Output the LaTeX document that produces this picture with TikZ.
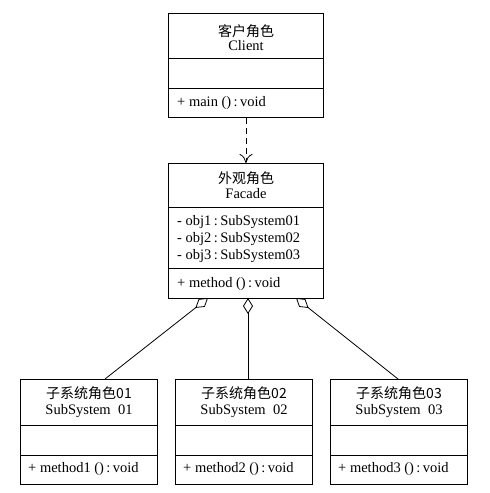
\documentclass[tikz,border=0pt]{standalone}
\usepackage{fontspec}
\setmainfont{Liberation Serif}
\newfontfamily\cjk{Noto Sans CJK SC}
\usetikzlibrary{arrows.meta}
\begin{document}
\begin{tikzpicture}[x=1pt,y=-1pt,
  box/.style={draw, line width=0.9pt, anchor=north west, inner sep=0pt},
  txt/.style={font=\fontsize{14.5}{16}\selectfont, inner sep=0pt, anchor=center},
  ltxt/.style={font=\fontsize{14.5}{16}\selectfont, inner sep=0pt, anchor=west},
  ctitle/.style={font=\cjk\fontsize{14}{16}\selectfont, inner sep=0pt, anchor=center},
  divider/.style={line width=0.9pt},
  conn/.style={line width=0.8pt}]
\useasboundingbox (0,0) rectangle (490,493);
% Client
\node[box, minimum width=155pt, minimum height=104pt] (client) at (168,13) {};
\draw[divider] (168,58) -- (323,58);
\draw[divider] (168,88) -- (323,88);
\node[ctitle] (clientcn) at (246,31) {客户角色};
\node[txt] (clienten) at (246,46) {Client};
\node[ltxt] (clientm) at (177,103) {+ main ()\,:\,void};
% Facade
\node[box, minimum width=155pt, minimum height=135pt] (facade) at (168,163) {};
\draw[divider] (168,207) -- (323,207);
\draw[divider] (168,268) -- (323,268);
\node[ctitle] (facadecn) at (246,178) {外观角色};
\node[txt] (facadeen) at (246,194) {Facade};
\node[ltxt] (fa1) at (177,222) {- obj1\,:\,SubSystem01};
\node[ltxt] (fa2) at (177,239) {- obj2\,:\,SubSystem02};
\node[ltxt] (fa3) at (177,256) {- obj3\,:\,SubSystem03};
\node[ltxt] (fm) at (177,284) {+ method ()\,:\,void};
% Subsystems
\foreach \i/\x in {1/20, 2/175, 3/330} {
  \node[box, minimum width=137pt, minimum height=105pt] (sub\i) at (\x,379) {};
  \draw[divider] (\x,425) -- ++(137,0);
  \draw[divider] (\x,455) -- ++(137,0);
  \node[ctitle] (sub\i cn) at (\x+69,393) {子系统角色0\i};
  \node[txt] (sub\i en) at (\x+69,411) {SubSystem\ \ 0\i};
  \node[ltxt] (sub\i m) at (\x+8,469) {+ method\i\ ()\,:\,void};
}
% dependency
\draw[conn, dashed, dash pattern=on 6pt off 4pt, -{To[length=9pt,width=13pt,line width=0.8pt]}] (client.south) -- (facade.north);
% aggregations
\coordinate (ag1) at (208,298);
\coordinate (ag2) at (248,298);
\coordinate (ag3) at (296,298);
\coordinate (e1) at (105,379);
\coordinate (e2) at (248,379);
\coordinate (e3) at (398,379);
\draw[conn, {Diamond[open,length=16pt,width=10pt,line width=0.8pt]}-] (ag1) -- (e1);
\draw[conn, {Diamond[open,length=16pt,width=10pt,line width=0.8pt]}-] (ag2) -- (e2);
\draw[conn, {Diamond[open,length=16pt,width=10pt,line width=0.8pt]}-] (ag3) -- (e3);
\end{tikzpicture}
\end{document}
